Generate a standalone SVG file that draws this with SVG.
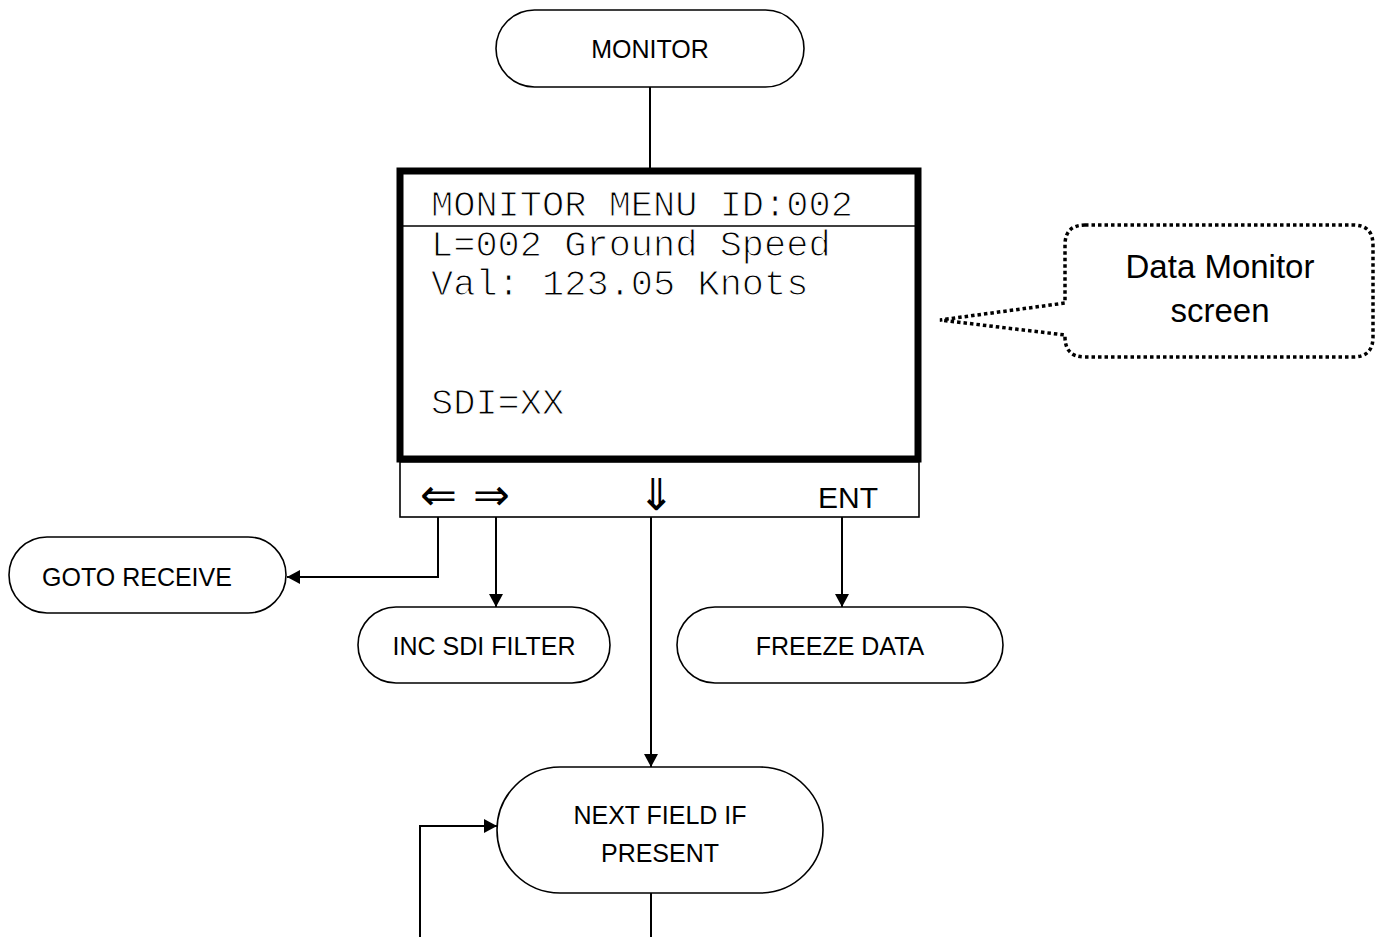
<svg xmlns="http://www.w3.org/2000/svg" width="1385" height="937" viewBox="0 0 1385 937">
  <style>
    .term { fill: #fff; stroke: #000; stroke-width: 1.6; }
    .lbl { font-family: "Liberation Sans", Arial, sans-serif; font-size: 25px; fill: #000; text-anchor: middle; }
    .mono { font-family: "Liberation Mono", "Courier New", monospace; font-size: 37px; fill: #000; stroke: #fff; stroke-width: 1.1px; }
    .conn { fill: none; stroke: #000; stroke-width: 2; }
    .key { font-family: "DejaVu Sans", sans-serif; font-size: 44px; fill: #000; }
  </style>
  <defs>
    <marker id="arr" viewBox="0 0 13 14" refX="13" refY="7" markerWidth="13" markerHeight="14" markerUnits="userSpaceOnUse" orient="auto">
      <path d="M0,0 L13,7 L0,14 Z" fill="#000"/>
    </marker>
  </defs>

  <rect width="1385" height="937" fill="#fff"/>

  <g id="connectors">
    <path class="conn" d="M650,87 V171"/>
    <path class="conn" d="M438,517 V577 H287" marker-end="url(#arr)"/>
    <path class="conn" d="M496,517 V607" marker-end="url(#arr)"/>
    <path class="conn" d="M842,517 V607" marker-end="url(#arr)"/>
    <path class="conn" d="M651,517 V767" marker-end="url(#arr)"/>
    <path class="conn" d="M651,893 V937"/>
    <path class="conn" d="M420,937 V826 H497" marker-end="url(#arr)"/>
  </g>

  <g id="monitor">
    <rect class="term" x="496" y="10" width="308" height="77" rx="38.5"/>
    <text class="lbl" x="650" y="58">MONITOR</text>
  </g>

  <g id="screen">
    <rect x="400" y="171" width="518" height="288" fill="#fff" stroke="#000" stroke-width="7"/>
    <line x1="403" y1="226" x2="915" y2="226" stroke="#000" stroke-width="1.5"/>
    <text class="mono" x="431" y="216">MONITOR MENU ID:002</text>
    <text class="mono" x="431" y="256">L=002 Ground Speed</text>
    <text class="mono" x="431" y="295">Val: 123.05 Knots</text>
    <text class="mono" x="431" y="414">SDI=XX</text>
  </g>

  <g id="keys">
    <rect x="400" y="462" width="519" height="55" fill="#fff" stroke="#000" stroke-width="1.6"/>
    <text class="key" x="420" y="510">⇐</text>
    <text class="key" x="473" y="510">⇒</text>
    <text class="key" x="638" y="510">⇓</text>
    <text x="848" y="508" font-family="'Liberation Sans', Arial, sans-serif" font-size="30" text-anchor="middle">ENT</text>
  </g>

  <g id="callout">
    <path d="M1085,225 H1353 Q1373,225 1373,245 V337 Q1373,357 1353,357 H1085 Q1065,357 1065,337 V335 L940,320 L1065,303 V245 Q1065,225 1085,225 Z" fill="#fff" stroke="#000" stroke-width="3.5" stroke-dasharray="3.5 3"/>
    <text x="1220" y="278" font-family="'Liberation Sans', Arial, sans-serif" font-size="33" text-anchor="middle">Data Monitor</text>
    <text x="1220" y="322" font-family="'Liberation Sans', Arial, sans-serif" font-size="33" text-anchor="middle">screen</text>
  </g>

  <g id="goto-receive">
    <rect class="term" x="9" y="537" width="277" height="76" rx="38"/>
    <text class="lbl" x="137" y="586">GOTO RECEIVE</text>
  </g>

  <g id="inc-sdi-filter">
    <rect class="term" x="358" y="607" width="252" height="76" rx="38"/>
    <text class="lbl" x="484" y="655">INC SDI FILTER</text>
  </g>

  <g id="freeze-data">
    <rect class="term" x="677" y="607" width="326" height="76" rx="38"/>
    <text class="lbl" x="840" y="655">FREEZE DATA</text>
  </g>

  <g id="next-field">
    <rect class="term" x="497" y="767" width="326" height="126" rx="63"/>
    <text class="lbl" x="660" y="824">NEXT FIELD IF</text>
    <text class="lbl" x="660" y="862">PRESENT</text>
  </g>
</svg>
